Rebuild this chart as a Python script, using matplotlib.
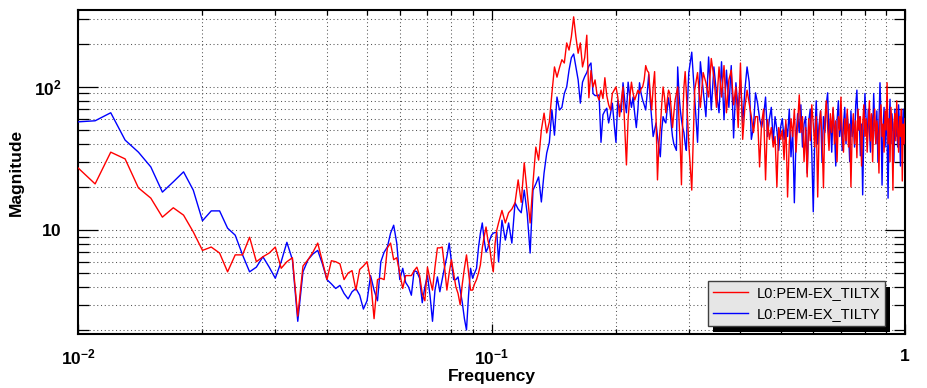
import numpy as np
import matplotlib
matplotlib.use("Agg")
import matplotlib.pyplot as plt
from matplotlib.ticker import FixedLocator, FixedFormatter, LogLocator, NullFormatter
from matplotlib.patches import Rectangle
from matplotlib.lines import Line2D

plt.rcParams['font.family'] = ['Liberation Sans', 'DejaVu Sans']
plt.rcParams['mathtext.fontset'] = 'custom'
plt.rcParams['mathtext.rm'] = 'Liberation Sans:bold'
plt.rcParams['mathtext.bf'] = 'Liberation Sans:bold'
plt.rcParams['mathtext.it'] = 'Liberation Sans:bold:italic'
plt.rcParams['mathtext.sf'] = 'Liberation Sans:bold'

# ---- data (frequency bins in Hz, magnitudes) ----
freq_low = np.linspace(0.010, 0.104, 95)     # 0.001 Hz bins
freq_mid = np.linspace(0.106, 0.300, 98)     # 0.002 Hz bins
freq_high = np.linspace(0.305, 1.000, 140)   # 0.005 Hz bins

tiltx_low = [27.2, 21, 35, 31.4, 19.7, 16.7, 12.3, 14.3, 12.7, 9.7, 7.2, 7.6, 6.9, 5.1, 6.7,
             6.7, 8.9, 6.0, 6.5, 6.9, 7.6, 5.4, 6.0, 6.4, 2.5,
             5.6, 6.2, 7.0, 8.1, 6.0, 4.5, 6.1, 6.0, 5.8, 4.5, 5.0, 5.2, 3.8, 5.3, 5.6, 6.0, 4.5, 2.4, 4.5, 4.6,
             4.5, 7.5, 8.1, 6.2, 6.4, 5.0, 3.9, 4.8, 4.8, 4.8, 5.2, 5.5, 4.8, 3.6, 3.2,
             5.5, 4.5, 3.8, 5.5, 7.5, 7.5, 7.6, 5.5, 3.8, 5.0, 6.2, 5.0, 4.0, 3.6, 3.0,
             4.2, 5.4, 6.7, 5.0, 3.8, 3.8, 4.2, 4.5, 5.0, 5.7, 7.5, 9.0, 10.5, 8.5, 7.5,
             6.0, 5.1, 8.0, 10.0, 11.2]
tilty_low = [57, 58, 66, 42.5, 35, 27.6, 18.4, 21.7, 25.5, 19, 11.6, 13.6, 13.6, 10.3, 9.2,
             6.7, 5.1, 5.5, 6.5, 5.5, 4.6, 6.0, 8.2, 6.2, 2.3,
             5.1, 6.2, 6.8, 7.2, 5.8, 4.5, 4.2, 3.9, 4.1, 3.6, 3.3, 3.7, 3.9, 3.5, 2.8, 3.2, 4.8, 3.8, 3.2, 6.0,
             7.0, 7.6, 9.5, 10.8, 8.1, 4.5, 5.4, 4.3, 4.0, 3.5, 5.2, 5.1, 4.6, 3.1, 4.0,
             4.8, 3.5, 2.3, 3.8, 4.7, 3.7, 4.5, 5.5, 6.5, 8.1, 6.0, 4.5, 4.5, 4.7, 3.8,
             3.1, 2.4, 2.0, 3.5, 5.4, 4.6, 5.0, 5.4, 7.5, 9.5, 11.2, 8.5, 7.0, 7.5, 8.5,
             9.2, 9.5, 9.6, 9.6, 6.0]

tiltx_mid = [13.7, 11.2, 13.2, 14, 15.5, 22.4, 15.6, 29.5, 18.2, 11.2, 21.4, 38, 30.8, 50, 65.6,
             47.7, 57, 90.5, 138, 117, 136, 155, 147, 203, 181, 224, 309, 224, 172, 203,
             138, 160, 230, 84, 130,
             100, 112, 88, 81, 95, 83, 116, 87, 75, 69, 90, 95, 100, 85, 62,
             80, 100, 52, 28.5, 60, 85, 108, 90, 81, 88, 95, 90, 97, 100, 112,
             141, 130, 126, 90, 69, 100, 128, 60, 22.4, 40, 52, 75, 100, 85, 66,
             80, 95, 90, 70, 52, 65, 81, 90, 100, 60, 40, 20.7, 60, 100, 128,
             90, 59, 40]
tilty_mid = [11.7, 8.5, 11.2, 8.1, 15.5, 14, 13.2, 19, 13, 6.9, 19, 21, 23.5, 15.7, 25,
             34.5, 41, 69, 46, 85, 69, 72, 90, 100, 131, 160, 170, 138, 112, 77,
             108, 118, 126, 140, 147,
             90, 87, 87, 88, 41, 64, 68, 71, 56, 65, 77, 55, 41, 81, 72,
             67, 107, 80, 66, 108, 85, 72, 85, 65, 52, 70, 107, 90, 81, 75,
             69, 90, 122, 80, 60, 45, 50, 56, 45, 38, 32.5, 50, 62, 58, 56,
             70, 84, 70, 55, 45, 40, 38, 36, 138, 90, 70, 59, 52, 48, 40,
             36, 80, 126]

tiltx_high = [19, 95, 126, 72, 126, 107, 85, 158, 117, 72,
              138, 85, 141, 66, 112, 131, 75, 100, 52, 147,
              43, 72, 95, 77, 62, 48, 62, 62, 27.6, 56,
              70, 22.4, 59, 43, 52, 38, 45, 20, 52, 43,
              50, 31, 59, 17, 41, 60, 45, 70, 35, 55,
              88, 48, 62, 30, 52, 23.5, 60, 42, 75, 55,
              38, 62, 17, 50, 68, 45, 19.7, 58, 80, 52,
              36, 65, 48, 72, 40, 58, 30, 62, 50, 85,
              45, 35, 60, 42, 70, 38, 55, 20, 48, 65,
              40, 58, 32, 70, 50, 62, 28, 55, 75, 45,
              60, 35, 52, 80, 42, 65, 30, 55, 70, 40,
              58, 48, 25, 62, 75, 45, 55, 35, 68, 50,
              107, 40, 60, 30, 72, 48, 19, 55, 65, 42,
              80, 50, 35, 62, 45, 70, 22, 55, 40, 60]
tilty_high = [175, 85, 41, 150, 95, 62, 162, 69, 138, 91,
              66, 150, 59, 131, 72, 141, 44, 107, 69, 112,
              56, 95, 138, 108, 43, 52, 91, 77, 60, 52,
              62, 85, 45, 60, 72, 41, 62, 50, 36, 52,
              60, 43, 55, 45, 70, 32.5, 50, 15.5, 43, 65,
              48, 75, 38, 55, 62, 25, 58, 70, 35, 13.4,
              45, 80, 40, 55, 68, 30, 62, 48, 75, 91,
              42, 60, 35, 70, 50, 28, 58, 80, 45, 62,
              36, 55, 72, 40, 65, 50, 30, 68, 45, 58,
              38, 75, 95, 50, 62, 33, 55, 17.6, 48, 90,
              60, 42, 70, 52, 35, 64, 45, 90, 55, 40,
              68, 30, 58, 107, 62, 20.6, 50, 72, 38, 60,
              45, 16.7, 55, 82, 40, 65, 50, 30, 70, 45,
              60, 38, 75, 52, 28, 62, 45, 70, 40, 55]

freq = np.concatenate([freq_low, freq_mid, freq_high])
tiltx = np.array(tiltx_low + tiltx_mid + tiltx_high)
tilty = np.array(tilty_low + tilty_mid + tilty_high)

labels = ["L0:PEM-EX_TILTX", "L0:PEM-EX_TILTY"]
colors = ["#ff0000", "#0000ff"]
xticks = [0.01, 0.1, 1.0]
xticklabels = [r"$10^{-2}$", r"$10^{-1}$", r"$1$"]
yticks = [10, 100]
yticklabels = [r"$10$", r"$10^{2}$"]

W, H = 927, 388
fig = plt.figure(figsize=(W / 100, H / 100), dpi=100)
L, R, T, B = 78, 905, 10, 334
ax = fig.add_axes([L / W, 1 - B / H, (R - L) / W, (B - T) / H])

ax.plot(freq, tilty, color=colors[1], lw=1.0, zorder=3)
ax.plot(freq, tiltx, color=colors[0], lw=1.0, zorder=3)

ax.set_xscale('log')
ax.set_yscale('log')
ax.set_xlim(0.01, 1.0)
ax.set_ylim(1.875, 345)

ax.xaxis.set_major_locator(FixedLocator(xticks))
ax.xaxis.set_major_formatter(FixedFormatter(xticklabels))
ax.xaxis.set_minor_locator(LogLocator(base=10, subs=np.arange(2, 10)))
ax.xaxis.set_minor_formatter(NullFormatter())
ax.yaxis.set_major_locator(FixedLocator(yticks))
ax.yaxis.set_major_formatter(FixedFormatter(yticklabels))
ax.yaxis.set_minor_locator(LogLocator(base=10, subs=np.arange(2, 10)))
ax.yaxis.set_minor_formatter(NullFormatter())

ax.grid(which='both', linestyle=(0, (1, 2.6)), color='#555555', lw=0.75, zorder=1)
ax.set_axisbelow(True)

ax.tick_params(which='both', direction='in', top=True, right=True, width=0.9, color='black')
ax.tick_params(axis='x', which='major', length=7, pad=10, labelsize=12.5)
ax.tick_params(axis='x', which='minor', length=3.5)
ax.tick_params(axis='y', which='major', length=14.5, pad=12, labelsize=12.5)
ax.tick_params(axis='y', which='minor', length=8)

for s in ax.spines.values():
    s.set_linewidth(1.5)
    s.set_color('black')

ax.set_xlabel("Frequency", fontsize=12.5, fontweight='bold')
ax.xaxis.set_label_coords(0.5, (B - 377) / (B - T))
ax.xaxis.label.set_va('center')
ax.set_ylabel("Magnitude", fontsize=12.5, fontweight='bold')
ax.yaxis.set_label_coords((16 - L) / (R - L), 0.5)
ax.yaxis.label.set_va('center')

handles = [Line2D([], [], color=colors[0], lw=1.0), Line2D([], [], color=colors[1], lw=1.0)]
leg = ax.legend(handles, labels, loc='lower right', bbox_to_anchor=(0.976, 0.025),
                borderaxespad=0, fontsize=10.5, frameon=True, fancybox=False,
                edgecolor='#404040', facecolor='#e6e6e6', framealpha=1,
                handlelength=2.4, labelspacing=0.45, borderpad=0.35, handletextpad=0.6)
leg.get_frame().set_linewidth(1.0)
leg.set_zorder(6)

fig.canvas.draw()
bb = leg.get_window_extent()
shadow = Rectangle((bb.x0 + 5, bb.y0 - 6), bb.width, bb.height, transform=None,
                   facecolor='black', edgecolor='none', zorder=5.5, clip_on=False)
ax.add_artist(shadow)

fig.savefig("out.png", dpi=100)
